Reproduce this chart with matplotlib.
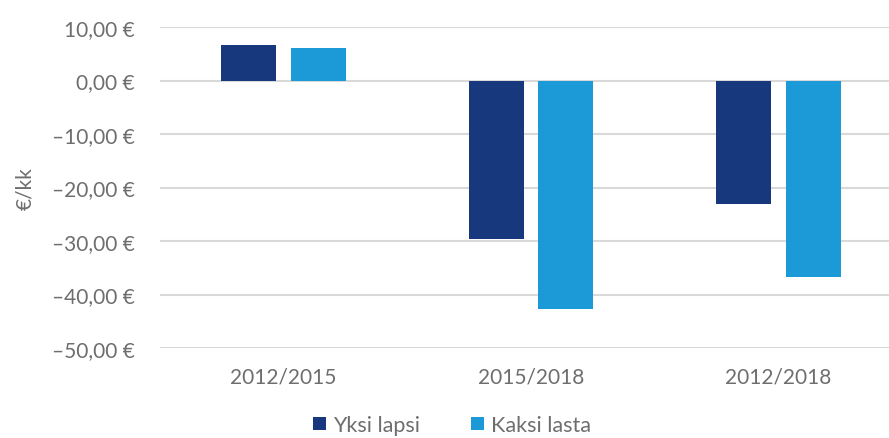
import matplotlib
matplotlib.use("Agg")
import matplotlib.pyplot as plt
import numpy as np
from matplotlib.ticker import FuncFormatter

categories = ["2012/2015", "2015/2018", "2012/2018"]
series_names = ["Yksi lapsi", "Kaksi lasta"]
yksi_lapsi = [6.7, -29.7, -23.0]
kaksi_lasta = [6.0, -42.8, -36.8]
colors = ["#17387C", "#1B9AD7"]

plt.rcParams['font.family'] = ['Lato', 'DejaVu Sans']
grey = "#6E6E6E"

fig = plt.figure(figsize=(8.89, 4.39), dpi=100)
ax = fig.add_axes([160/889, (439-349)/439, (902-160)/889, (349-28)/439])

x = np.arange(len(categories))
w = 0.222
off = 0.141
ax.bar(x - off, yksi_lapsi, w, color=colors[0], label=series_names[0], zorder=3)
ax.bar(x + off, kaksi_lasta, w, color=colors[1], label=series_names[1], zorder=3)

ax.set_xlim(-0.5, 2.5)
ax.set_ylim(-50, 10)
ax.set_yticks(np.arange(-50, 11, 10))
ax.yaxis.set_major_formatter(FuncFormatter(
    lambda v, p: ("–" if v < 0 else "") + f"{abs(v):.2f}".replace(".", ",") + " €"))
ax.set_xticks(x)
ax.set_xticklabels(categories)
ax.grid(axis='y', color="#D9D9D9", linewidth=1.5, zorder=0)
for s in ax.spines.values():
    s.set_visible(False)
ax.tick_params(axis='y', length=0, labelsize=15, colors=grey, pad=27)
ax.tick_params(axis='x', length=0, labelsize=15, colors=grey, pad=13)
for t in ax.get_yticklabels():
    pass
ax.tick_params(axis='y', pad=18)
ax.set_ylabel("€/kk", fontsize=15, color=grey, labelpad=12)

leg = fig.legend(loc='center', bbox_to_anchor=(452/889, 1 - 426/439), ncol=2, frameon=False,
                 fontsize=15.5, labelcolor=grey, handlelength=0.6, handleheight=0.6,
                 handletextpad=0.3, columnspacing=2.4)

fig.savefig("out.png", dpi=100)
